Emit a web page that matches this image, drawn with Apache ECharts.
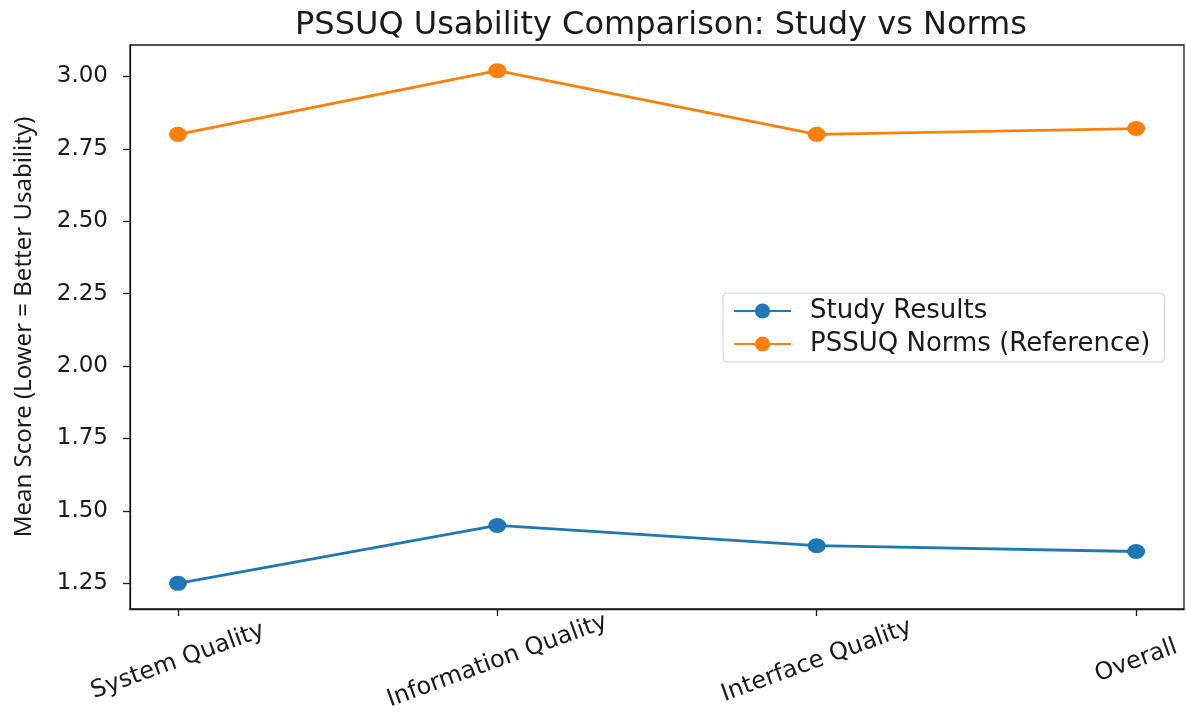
<!DOCTYPE html>
<html>
<head>
<meta charset="utf-8">
<script src="https://cdn.jsdelivr.net/npm/echarts@6/dist/echarts.min.js"></script>
<style>html,body{margin:0;padding:0;background:#fff}#c{width:1186px;height:715px}</style>
</head>
<body>
<div id="c"></div>
<script>
const categories = ['System Quality', 'Information Quality', 'Interface Quality', 'Overall'];
const studyResults = [1.25, 1.45, 1.38, 1.36];
const pssuqNorms = [2.80, 3.02, 2.80, 2.82];
const yTicks = [1.25, 1.50, 1.75, 2.00, 2.25, 2.50, 2.75, 3.00];
const seriesNames = ['Study Results', 'PSSUQ Norms (Reference)'];

const all = studyResults.concat(pssuqNorms);
const dMin = Math.min(...all), dMax = Math.max(...all);
const pad = (dMax - dMin) * 0.05;
const xIdx = categories.map((_, i) => i);

const chart = echarts.init(document.getElementById('c'), null, {renderer: 'canvas'});
const font = 'DejaVu Sans';
chart.setOption({
  animation: false,
  backgroundColor: '#fff',
  title: {
    text: 'PSSUQ Usability Comparison: Study vs Norms',
    left: 656, textAlign: 'center', top: 5,
    textStyle: {fontFamily: font, fontSize: 32, fontWeight: 'normal', color: '#1a1a1a'}
  },
  legend: {
    orient: 'vertical',
    left: 723, top: 293,
    width: 448,
    padding: [5, 14, 5, 10],
    itemGap: 7,
    itemWidth: 57, itemHeight: 19,
    borderColor: '#d0d0d0', borderWidth: 1, borderRadius: 4,
    textStyle: {fontFamily: font, fontSize: 26, color: '#1a1a1a', padding: [0, 0, 0, 14]},
    data: seriesNames
  },
  grid: {left: 130, right: 2, top: 45, bottom: 106, show: true, borderColor: '#1a1a1a', borderWidth: 1.3, containLabel: false},
  xAxis: {
    type: 'value', min: -0.15, max: categories.length - 1 + 0.15,
    splitLine: {show: false},
    axisLine: {show: true, onZero: false, lineStyle: {color: '#1a1a1a', width: 1.3}},
    axisTick: {show: true, length: 7, customValues: xIdx, lineStyle: {color: '#1a1a1a', width: 1.3}},
    axisLabel: {
      customValues: xIdx,
      formatter: v => categories[Math.round(v)] || '',
      rotate: 20, align: 'center', verticalAlign: 'middle', margin: 52,
      fontFamily: font, fontSize: 24, color: '#1a1a1a'
    }
  },
  yAxis: {
    type: 'value', min: dMin - pad, max: dMax + pad,
    name: 'Mean Score (Lower = Better Usability)',
    nameLocation: 'middle', nameGap: 94, nameRotate: 90,
    nameTextStyle: {fontFamily: 'Noto Sans', fontSize: 24, color: '#1a1a1a'},
    splitLine: {show: false},
    axisLine: {show: true, onZero: false, lineStyle: {color: '#1a1a1a', width: 1.3}},
    axisTick: {show: true, length: 7, customValues: yTicks, lineStyle: {color: '#1a1a1a', width: 1.3}},
    axisLabel: {
      customValues: yTicks, margin: 22,
      formatter: v => v.toFixed(2),
      fontFamily: font, fontSize: 23, color: '#1a1a1a'
    }
  },
  series: [
    {
      name: seriesNames[0], type: 'line',
      data: studyResults.map((v, i) => [i, v]),
      symbol: 'circle', symbolSize: [18, 15],
      lineStyle: {color: '#1f77b4', width: 2.8},
      itemStyle: {color: '#1f77b4'}
    },
    {
      name: seriesNames[1], type: 'line',
      data: pssuqNorms.map((v, i) => [i, v]),
      symbol: 'circle', symbolSize: [18, 15],
      lineStyle: {color: '#ff7f0e', width: 2.8},
      itemStyle: {color: '#ff7f0e'}
    }
  ]
});
</script>
</body>
</html>
